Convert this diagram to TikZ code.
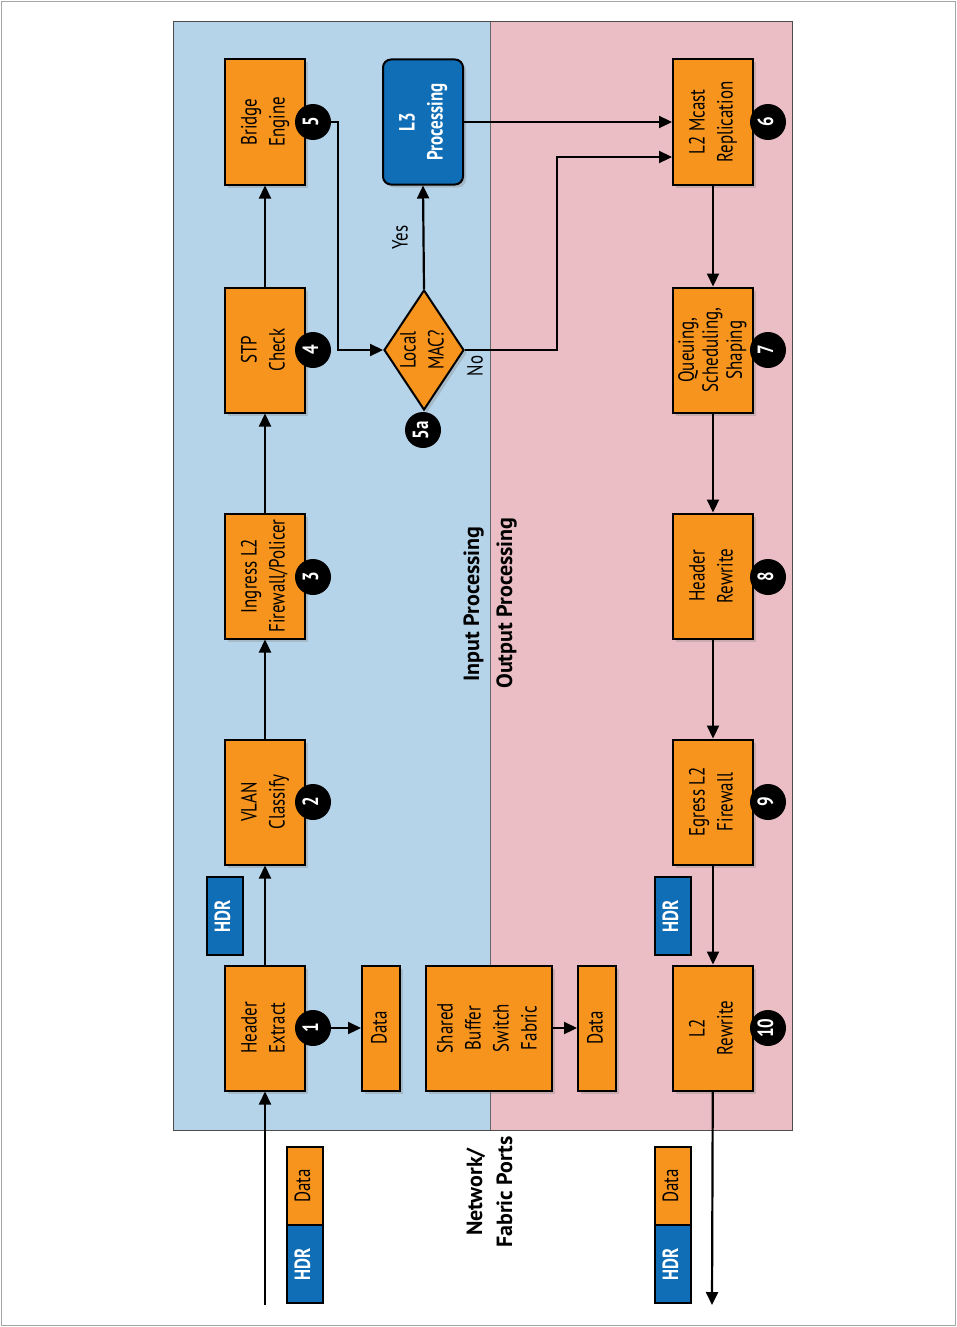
\documentclass[tikz,border=0pt]{standalone}
\usepackage{fontspec}
\setmainfont{PT Sans}[FakeStretch=0.77]
\newfontfamily\regionfont{PT Sans}
\usepackage{graphicx}
\usepackage{xcolor}
\usepackage{tikz}
\usetikzlibrary{arrows.meta, shapes.geometric, shadows}

\definecolor{inblue}{RGB}{181,212,234}
\definecolor{outpink}{RGB}{234,190,196}
\definecolor{boxorange}{RGB}{247,148,30}
\definecolor{hdrblue}{RGB}{16,110,183}
\newcommand{\rt}[1]{\rotatebox{90}{\begin{tabular}{@{}c@{}}#1\end{tabular}}}

\begin{document}
\begin{tikzpicture}[x=1pt, y=-1pt, font=\fontsize{22}{28}\selectfont,
    stage/.style={draw, line width=2pt, fill=boxorange, minimum width=80pt, minimum height=125pt, inner sep=0pt,
        drop shadow={opacity=0.3, shadow xshift=3pt, shadow yshift=-3pt}},
    l3box/.style={stage, fill=hdrblue, text=white, font=\fontsize{22}{28}\selectfont\bfseries, rounded corners=8pt},
    decide/.style={diamond, aspect=0.667, draw, line width=2pt, fill=boxorange, minimum width=80pt, minimum height=120pt,
        inner sep=-4pt, drop shadow={opacity=0.3, shadow xshift=3pt, shadow yshift=-3pt}},
    slim/.style={draw, line width=2pt, fill=boxorange, minimum width=38pt, minimum height=125pt, inner sep=0pt,
        drop shadow={opacity=0.3, shadow xshift=3pt, shadow yshift=-3pt}},
    hdr/.style={draw, line width=2pt, fill=hdrblue, text=white, font=\fontsize{22}{26}\selectfont\bfseries,
        minimum width=36pt, minimum height=78pt, inner sep=0pt},
    pdata/.style={hdr, fill=boxorange, text=black, font=\fontsize{22}{26}\selectfont},
    badge/.style={circle, fill=black, text=white, minimum size=36pt, inner sep=0pt, font=\fontsize{22}{26}\selectfont\bfseries},
    flow/.style={-{Triangle[length=13pt, width=12pt]}, line width=2.2pt},
    region/.style={font=\regionfont\fontsize{22}{30}\selectfont\bfseries}]

    \useasboundingbox (0,0) rectangle (957,1327);
    \draw[gray!70, line width=1pt] (1.5,1.5) rectangle (955.5,1325.5);

    \fill[inblue] (173,22) rectangle (490,1130);
    \fill[outpink] (490,22) rectangle (792,1130);
    \draw[black!70, line width=1pt] (173,22) rectangle (792,1130);
    \draw[black!60, line width=0.8pt] (490,22) -- (490,1130);

    \node[region] (inproc) at (473,604) {\rt{Input Processing}};
    \node[region] (outproc) at (506,603) {\rt{Output Processing}};
    \node[region] (ports) at (491,1192) {\rt{Network/\\Fabric Ports}};

    \node[stage] (bridge) at (265,122) {\rt{Bridge\\Engine}};
    \node[stage] (stp) at (265,350) {\rt{STP\\Check}};
    \node[stage] (ingress) at (265,576) {\rt{Ingress L2\\Firewall/Policer}};
    \node[stage] (vlan) at (265,802) {\rt{VLAN\\Classify}};
    \node[stage] (hext) at (265,1028) {\rt{Header\\Extract}};

    \node[l3box] (l3) at (423,122) {\rt{L3\\Processing}};
    \node[decide] (mac) at (424,350) {\rt{Local\\MAC?}};

    \node[slim] (data1) at (381,1028) {\rt{Data}};
    \node[stage, minimum width=126pt] (sbuf) at (489,1028) {\rt{Shared\\Buffer\\Switch\\Fabric}};
    \node[slim] (data2) at (597,1028) {\rt{Data}};

    \node[stage] (mcast) at (713,122) {\rt{L2 Mcast\\Replication}};
    \node[stage, font=\fontsize{22}{24}\selectfont] (queue) at (713,350) {\rt{Queuing,\\Scheduling,\\Shaping}};
    \node[stage] (hrw) at (713,576) {\rt{Header\\Rewrite}};
    \node[stage] (egress) at (713,802) {\rt{Egress L2\\Firewall}};
    \node[stage] (l2rw) at (713,1028) {\rt{L2\\Rewrite}};

    \node[badge] (b5) at (313,122) {\rt{5}};
    \node[badge] (b4) at (313,350) {\rt{4}};
    \node[badge] (b3) at (313,577) {\rt{3}};
    \node[badge] (b2) at (313,802) {\rt{2}};
    \node[badge] (b1) at (313,1028) {\rt{1}};
    \node[badge] (b5a) at (423,430) {\rt{5a}};
    \node[badge] (b6) at (768,122) {\rt{6}};
    \node[badge] (b7) at (768,350) {\rt{7}};
    \node[badge] (b8) at (768,577) {\rt{8}};
    \node[badge] (b9) at (768,802) {\rt{9}};
    \node[badge] (b10) at (768,1028) {\rt{10}};

    \node[hdr] (hdrin) at (225,916) {\rt{HDR}};
    \node[hdr] (hdrout) at (673,916) {\rt{HDR}};

    \node[pdata] (pktindata) at (305,1186) {\rt{Data}};
    \node[hdr] (pktinhdr) at (305,1264) {\rt{HDR}};
    \node[pdata] (pktoutdata) at (673,1186) {\rt{Data}};
    \node[hdr] (pktouthdr) at (673,1264) {\rt{HDR}};

    \coordinate (inport) at (265,1305);
    \coordinate (outport) at (712,1305);
    \coordinate (j1) at (338,350);
    \coordinate (j2) at (557,157);

    \draw[flow] (inport) -- (hext);
    \draw[flow] (hext) -- (vlan);
    \draw[flow] (vlan) -- (ingress);
    \draw[flow] (ingress) -- (stp);
    \draw[flow] (stp) -- (bridge);
    \draw[flow] (b1) -- (data1);
    \draw[flow] (sbuf) -- (data2);
    \draw[flow] (b5.east) -| (j1) -- (mac.west);
    \draw[flow] (mac.north) -- (l3.south) node[midway, left=3pt] {\rt{Yes}};
    \draw[flow] (mac.east) -| (j2) -- (mcast.west |- j2);
    \node (nolbl) at (477,366) {\rt{No}};
    \draw[flow] (l3) -- (mcast);
    \draw[flow] (mcast) -- (queue);
    \draw[flow] (queue) -- (hrw);
    \draw[flow] (hrw) -- (egress);
    \draw[flow] (egress) -- (l2rw);
    \draw[flow] (l2rw) -- (outport);
\end{tikzpicture}
\end{document}
